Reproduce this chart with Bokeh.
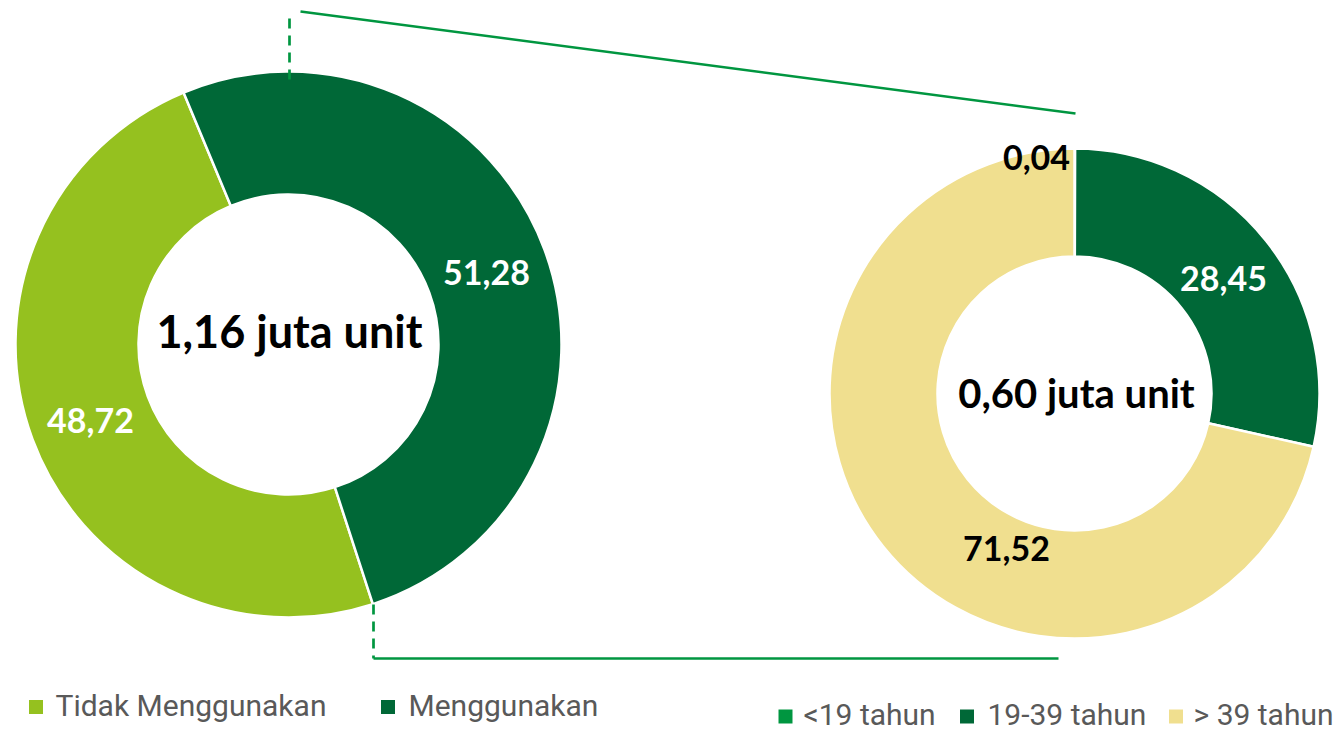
import numpy as np
from bokeh.plotting import figure
from bokeh.models import Range1d, ColumnDataSource
from bokeh.core.properties import value
from bokeh.embed import file_html
from bokeh.resources import INLINE

# ---------------- data ----------------
left_labels = ["Tidak Menggunakan", "Menggunakan"]
left_values = [48.72, 51.28]
left_colors = ["#95c11f", "#006837"]
left_label_colors = ["white", "white"]
left_total = "1,16 juta unit"

right_labels = ["<19 tahun", "19-39 tahun", "> 39 tahun"]
right_values = [0.04, 28.45, 71.52]
right_colors = ["#009640", "#006837", "#f0df8f"]
right_label_colors = ["black", "white", "black"]
right_total = "0,60 juta unit"

# ---------------- layout ----------------
W, H = 1343, 734


def X(px):
    return px


def Y(py):
    return H - py


p = figure(width=W, height=H, x_range=Range1d(0, W), y_range=Range1d(0, H),
           output_backend="svg", toolbar_location=None, min_border=0,
           x_axis_type=None, y_axis_type=None)
p.grid.visible = False
p.outline_line_color = None
p.background_fill_color = "white"
p.border_fill_color = "white"

BOLD = value("Lato")
LEG = value("Roboto")


def fmt(v):
    return f"{v:.2f}".replace(".", ",")


def donut(values, colors, cx, cy, r_in, r_out, first_deg):
    vals = np.array(values, dtype=float)
    cum = np.concatenate([[0], np.cumsum(vals)]) / vals.sum() * 360.0
    start_cw = first_deg + cum[:-1]
    end_cw = first_deg + cum[1:]
    src = ColumnDataSource(dict(
        x=[X(cx)] * len(vals), y=[Y(cy)] * len(vals),
        start=list(np.pi / 2 - np.radians(start_cw)),
        end=list(np.pi / 2 - np.radians(end_cw)),
        color=colors,
    ))
    p.annular_wedge(x="x", y="y", inner_radius=r_in, outer_radius=r_out,
                    start_angle="start", end_angle="end", direction="clock",
                    fill_color="color", line_color="white", line_width=2.5,
                    source=src)


# left donut
donut(left_values, left_colors, 288, 344, 150, 273, 162.0)
# right donut
donut(right_values, right_colors, 1074, 393, 137, 245, 0.0)

# data labels
left_pos = [(90, 420), (486, 272)]
right_pos = [(1036, 157), (1223, 278), (1006, 548)]
lab_src = ColumnDataSource(dict(
    x=[X(a) for a, b in left_pos + right_pos],
    y=[Y(b) for a, b in left_pos + right_pos],
    text=[fmt(v) for v in left_values + right_values],
    color=left_label_colors + right_label_colors,
))
p.text(x="x", y="y", text="text", text_color="color", text_font=BOLD,
       text_font_style="bold", text_font_size="34px", text_align="center",
       text_baseline="middle", source=lab_src)

# totals
p.text(x=[X(289)], y=[Y(330)], text=[left_total], text_font=BOLD,
       text_font_style="bold", text_font_size="45px", text_align="center",
       text_baseline="middle", text_color="black")
p.text(x=[X(1076)], y=[Y(392)], text=[right_total], text_font=BOLD,
       text_font_style="bold", text_font_size="40px", text_align="center",
       text_baseline="middle", text_color="black")

# connector lines
LC = "#009640"
p.line(x=[X(289), X(289)], y=[Y(18), Y(81)], line_color=LC, line_width=2.7,
       line_dash="10 7")
p.line(x=[X(300), X(1075)], y=[Y(11), Y(113)], line_color=LC, line_width=2.5)
p.line(x=[X(373), X(373)], y=[Y(604), Y(658)], line_color=LC, line_width=2.7,
       line_dash="10 7")
p.line(x=[X(373), X(1058)], y=[Y(658), Y(658)], line_color=LC, line_width=2.5)

# legends
leg_left_sq = [35.5, 387.5]
leg_left_tx = [55, 408]
leg_right_sq = [785, 966.5, 1175.5]
leg_right_tx = [803, 987, 1193]

p.rect(x=[X(a) for a in leg_left_sq], y=[Y(706.5)] * 2, width=14, height=14,
       fill_color=left_colors, line_color=None)
p.text(x=[X(a) for a in leg_left_tx], y=[Y(705)] * 2, text=left_labels,
       text_font=LEG, text_font_size="30px", text_color="#595959",
       text_align="left", text_baseline="middle")

p.rect(x=[X(a) for a in leg_right_sq], y=[Y(716)] * 3, width=14, height=14,
       fill_color=right_colors, line_color=None)
p.text(x=[X(a) for a in leg_right_tx], y=[Y(714)] * 3, text=right_labels,
       text_font=LEG, text_font_size="30px", text_color="#595959",
       text_align="left", text_baseline="middle")

open("out.html", "w").write(file_html(p, INLINE))
